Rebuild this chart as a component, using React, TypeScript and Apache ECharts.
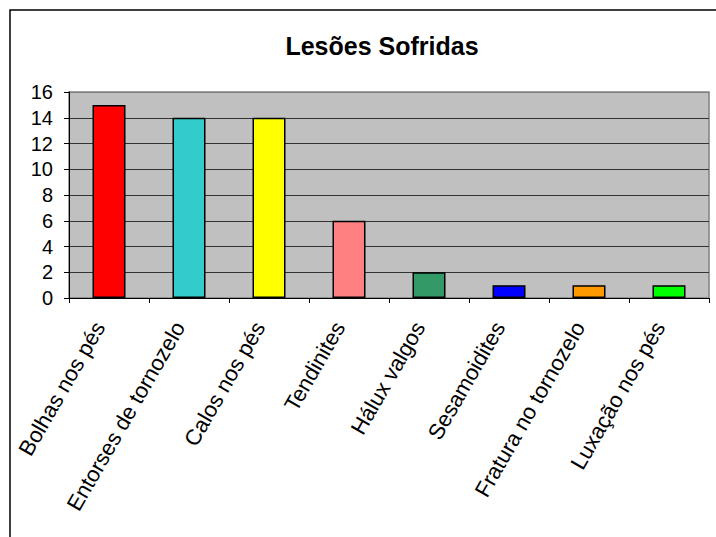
import React, { useEffect, useRef } from "react";
import * as echarts from "echarts";

const categories = [
  "Bolhas nos pés",
  "Entorses de tornozelo",
  "Calos nos pés",
  "Tendinites",
  "Hálux valgos",
  "Sesamoidites",
  "Fratura no tornozelo",
  "Luxação nos pés",
];
const values = [15, 14, 14, 6, 2, 1, 1, 1];
const barColors = [
  "#FF0000",
  "#33CCCC",
  "#FFFF00",
  "#FF8080",
  "#339966",
  "#0000FF",
  "#FF9900",
  "#00FF00",
];
const titleText = "Lesões Sofridas";

export default function App() {
  const ref = useRef<HTMLDivElement>(null);
  useEffect(() => {
    if (!ref.current) return;
    const chart = echarts.init(ref.current, undefined, { renderer: "svg" });
    const font = "'Liberation Sans', Arial, sans-serif";
    chart.setOption({
      animation: false,
      backgroundColor: "#ffffff",
      title: {
        text: titleText,
        left: 377,
        top: 28,
        textAlign: "center",
        textStyle: { fontFamily: font, fontSize: 25, fontWeight: "bold", color: "#000" },
      },
      graphic: [
        {
          type: "rect",
          shape: { x: 10, y: 10, width: 800, height: 700 },
          style: { fill: "none", stroke: "#000", lineWidth: 1.5 },
          silent: true,
          z: 100,
        },
      ],
      grid: {
        left: 69,
        top: 92,
        right: 7,
        bottom: 239,
        show: true,
        backgroundColor: "#C0C0C0",
        borderColor: "#808080",
        borderWidth: 1.5,
        containLabel: false,
      },
      xAxis: {
        type: "category",
        data: categories,
        axisLine: { show: true, lineStyle: { color: "#000", width: 1 } },
        axisTick: { show: true, length: 5, lineStyle: { color: "#000" } },
        axisLabel: {
          rotate: 60,
          margin: 31,
          interval: 0,
          verticalAlign: "bottom",
          fontFamily: font,
          fontSize: 22,
          color: "#000",
        },
      },
      yAxis: {
        type: "value",
        min: 0,
        max: 16,
        interval: 2,
        axisLine: { show: true, lineStyle: { color: "#000", width: 1 } },
        axisTick: { show: true, length: 5, lineStyle: { color: "#000" } },
        axisLabel: { margin: 16, fontFamily: font, fontSize: 20, color: "#000" },
        splitLine: {
          show: true,
          lineStyle: {
            color: ["#000", "#333", "#333", "#333", "#333", "#333", "#333", "#333", "#808080"],
            width: 1,
          },
        },
      },
      series: [
        {
          type: "bar",
          data: values.map((v, i) => ({
            value: v,
            itemStyle: { color: barColors[i] },
          })),
          barWidth: 33,
          itemStyle: { borderColor: "#000", borderWidth: 1.5 },
        },
      ],
    });
    return () => chart.dispose();
  }, []);
  return (
    <div
      ref={ref}
      style={{ position: "fixed", left: 0, top: 0, width: 716, height: 537 }}
    />
  );
}
